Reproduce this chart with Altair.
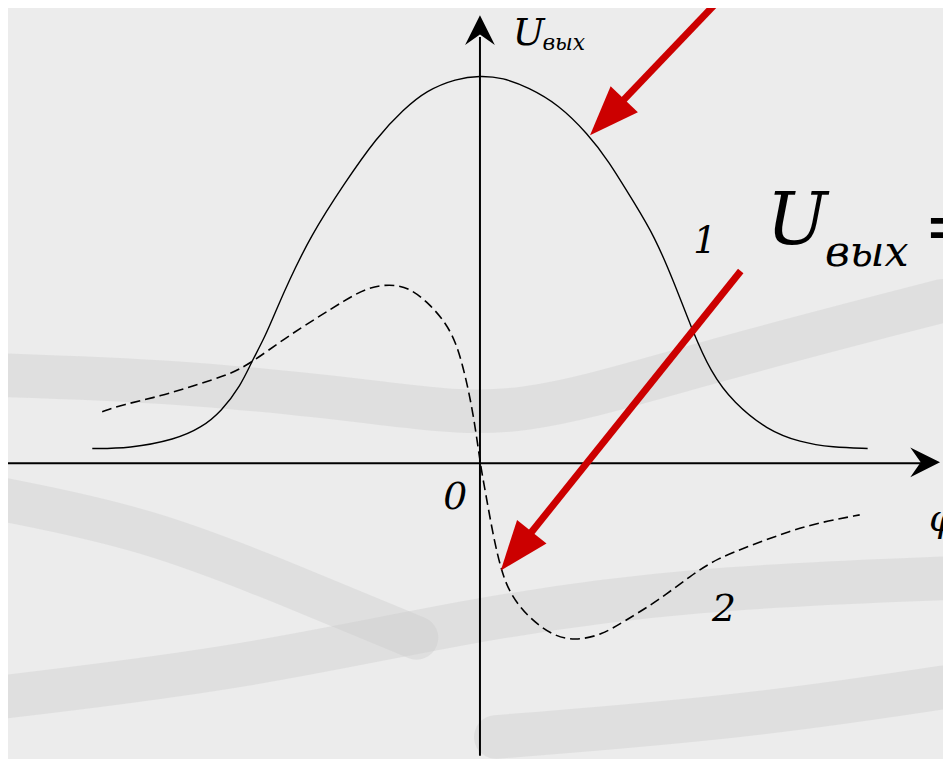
import math
import altair as alt
import pandas as pd

W, H = 943, 751

# curve 1 (solid): phi, U
phi1 = [-3.91, -3.54, -3.07, -2.81, -2.61, -2.41, -2.31, -2.17, -2.04, -1.94, -1.71, -1.37,
        -1.04, -0.77, -0.54, -0.24, 0.0, 0.23, 0.49, 0.79, 1.09, 1.29, 1.56, 1.76, 1.96,
        2.13, 2.33, 2.56, 2.89, 3.23, 3.56, 3.91]
u1 = [0.15, 0.15, 0.24, 0.36, 0.52, 0.79, 1.01, 1.27, 1.58, 1.81, 2.29, 2.82,
      3.29, 3.57, 3.76, 3.88, 3.91, 3.89, 3.79, 3.62, 3.32, 3.06, 2.62, 2.29, 1.82,
      1.37, 0.91, 0.61, 0.34, 0.21, 0.16, 0.15]

# curve 2 (dashed)
phi2 = [-3.81, -3.61, -3.21, -2.87, -2.54, -2.31, -1.97, -1.64, -1.37, -1.14, -0.91, -0.71,
        -0.51, -0.34, -0.24, -0.17, -0.11, -0.06, -0.02, 0.01, 0.04, 0.08, 0.14, 0.21,
        0.29, 0.46, 0.73, 0.96, 1.23, 1.46, 1.79, 2.13, 2.39, 2.73, 3.13, 3.46, 3.83]
u2 = [0.52, 0.59, 0.68, 0.79, 0.89, 1.01, 1.26, 1.47, 1.64, 1.77, 1.81, 1.77,
      1.61, 1.41, 1.21, 0.97, 0.71, 0.44, 0.17, -0.04, -0.21, -0.43, -0.76, -1.06,
      -1.29, -1.53, -1.74, -1.79, -1.73, -1.59, -1.39, -1.13, -0.96, -0.83, -0.68, -0.59, -0.52]

# italic labels
lab_text = ["U", "вых", "1", "2", "0", "φ", "U", "вых"]
lab_phi = [0.33, 0.63, 2.15, 2.34, -0.37, 4.53, 2.89, 3.48]
lab_u = [4.22, 4.17, 2.12, -1.59, -0.46, -0.68, 2.21, 1.99]
lab_size = [38, 22, 37, 38, 38, 38, 73, 43]

eq_text = ["="]
eq_phi = [4.47]
eq_u = [2.14]

# red arrows: start and tip
arr_phi0 = [2.38, 2.63]
arr_u0 = [4.64, 1.94]
arr_phi1 = [1.11, 0.21]
arr_u1 = [3.31, -1.08]

# faint background bands (paper texture swooshes)
band_id = ["a"] * 6 + ["b"] * 4 + ["c"] * 5 + ["d"] * 3
band_phi = [-4.84, -2.84, -0.84, 0.36, 2.16, 4.67,
            -4.84, -3.34, -1.84, -0.64,
            -4.84, -2.34, -0.04, 2.16, 4.67,
            0.16, 2.66, 4.67]
band_u = [0.89, 0.82, 0.59, 0.44, 0.99, 1.64,
          -0.36, -0.66, -1.26, -1.76,
          -2.36, -2.06, -1.56, -1.26, -1.16,
          -2.76, -2.56, -2.26]

X_MIN = -4.76
X_MAX = X_MIN + W / 100
Y_MAX = 4.56
Y_MIN = Y_MAX - H / 100

xs = alt.Scale(domain=[X_MIN, X_MAX], nice=False, zero=False)
ys = alt.Scale(domain=[Y_MIN, Y_MAX], nice=False, zero=False)
SERIF = "DejaVu Serif"

bands_df = pd.DataFrame({"b": band_id, "phi": band_phi, "u": band_u,
                         "o": list(range(len(band_id)))})
bands = alt.Chart(bands_df).mark_line(color="#c8c8c8", strokeWidth=44, opacity=0.35,
                                      interpolate="basis", strokeCap="round").encode(
    x=alt.X("phi:Q", scale=xs, axis=None), y=alt.Y("u:Q", scale=ys, axis=None),
    detail="b:N", order="o:Q")

c1 = pd.DataFrame({"phi": phi1, "u": u1})
c2 = pd.DataFrame({"phi": phi2, "u": u2})

line1 = alt.Chart(c1).mark_line(color="black", strokeWidth=1.4, interpolate="basis").encode(
    x=alt.X("phi:Q", scale=xs, axis=None), y=alt.Y("u:Q", scale=ys, axis=None))
line2 = alt.Chart(c2).mark_line(color="black", strokeWidth=1.6, strokeDash=[10, 5],
                                interpolate="basis").encode(
    x=alt.X("phi:Q", scale=xs, axis=None), y=alt.Y("u:Q", scale=ys, axis=None))

axes_df = pd.DataFrame({"x": [X_MIN, 0.0], "x2": [4.52, 0.0],
                        "y": [0.0, Y_MIN], "y2": [0.0, 4.30]})
axes = alt.Chart(axes_df).mark_rule(color="black", strokeWidth=2).encode(
    x=alt.X("x:Q", scale=xs, axis=None), x2="x2:Q",
    y=alt.Y("y:Q", scale=ys, axis=None), y2="y2:Q")

heads_df = pd.DataFrame({"x": [0.0, 4.64], "y": [4.52, 0.01], "a": [0, 90]})
axis_heads = alt.Chart(heads_df).mark_point(
    shape="M0,0L1,2L0,1.3L-1,2Z", filled=True, size=900, color="black", opacity=1,
    strokeWidth=0).encode(
    x=alt.X("x:Q", scale=xs, axis=None), y=alt.Y("y:Q", scale=ys, axis=None),
    angle=alt.Angle("a:Q", scale=None))

rows = []
for p0, q0, p1, q1 in zip(arr_phi0, arr_u0, arr_phi1, arr_u1):
    dp, dq = p1 - p0, q1 - q0
    ln = math.hypot(dp, dq)
    up, uq = dp / ln, dq / ln
    ang = math.degrees(math.atan2(-up, -uq)) % 360
    rows.append({"x0": p0, "y0": q0, "xe": p1 - 0.38 * up, "ye": q1 - 0.38 * uq,
                 "xt": p1, "yt": q1, "a": ang})
arr_df = pd.DataFrame(rows)
red = "#cc0000"
shafts = alt.Chart(arr_df).mark_rule(color=red, strokeWidth=7, strokeCap="butt").encode(
    x=alt.X("x0:Q", scale=xs, axis=None), x2="xe:Q",
    y=alt.Y("y0:Q", scale=ys, axis=None), y2="ye:Q")
red_heads = alt.Chart(arr_df).mark_point(
    shape="M0,0L0.76,-2L-0.76,-2Z", filled=True, size=2500, color=red, opacity=1,
    strokeWidth=0).encode(
    x=alt.X("xt:Q", scale=xs, axis=None), y=alt.Y("yt:Q", scale=ys, axis=None),
    angle=alt.Angle("a:Q", scale=None))

labels_df = pd.DataFrame({"t": lab_text, "x": lab_phi, "y": lab_u, "s": lab_size})
labels = alt.Chart(labels_df).mark_text(
    font=SERIF, fontStyle="italic", align="left", baseline="alphabetic",
    color="black").encode(
    x=alt.X("x:Q", scale=xs, axis=None), y=alt.Y("y:Q", scale=ys, axis=None),
    text="t:N", size=alt.Size("s:Q", scale=None))

eq_df = pd.DataFrame({"t": eq_text, "x": eq_phi, "y": eq_u})
eq = alt.Chart(eq_df).mark_text(
    font=SERIF, fontSize=73, align="left", baseline="alphabetic",
    color="black").encode(
    x=alt.X("x:Q", scale=xs, axis=None), y=alt.Y("y:Q", scale=ys, axis=None), text="t:N")

chart = alt.layer(bands, line1, line2, axes, axis_heads, shafts, red_heads,
                  labels, eq).properties(
    width=W, height=H, padding=0, autosize=alt.AutoSizeParams(type="none"),
    background="#ececec"
).configure_view(stroke=None)

chart.save("out.html", embed_options={"renderer": "svg", "actions": False})
